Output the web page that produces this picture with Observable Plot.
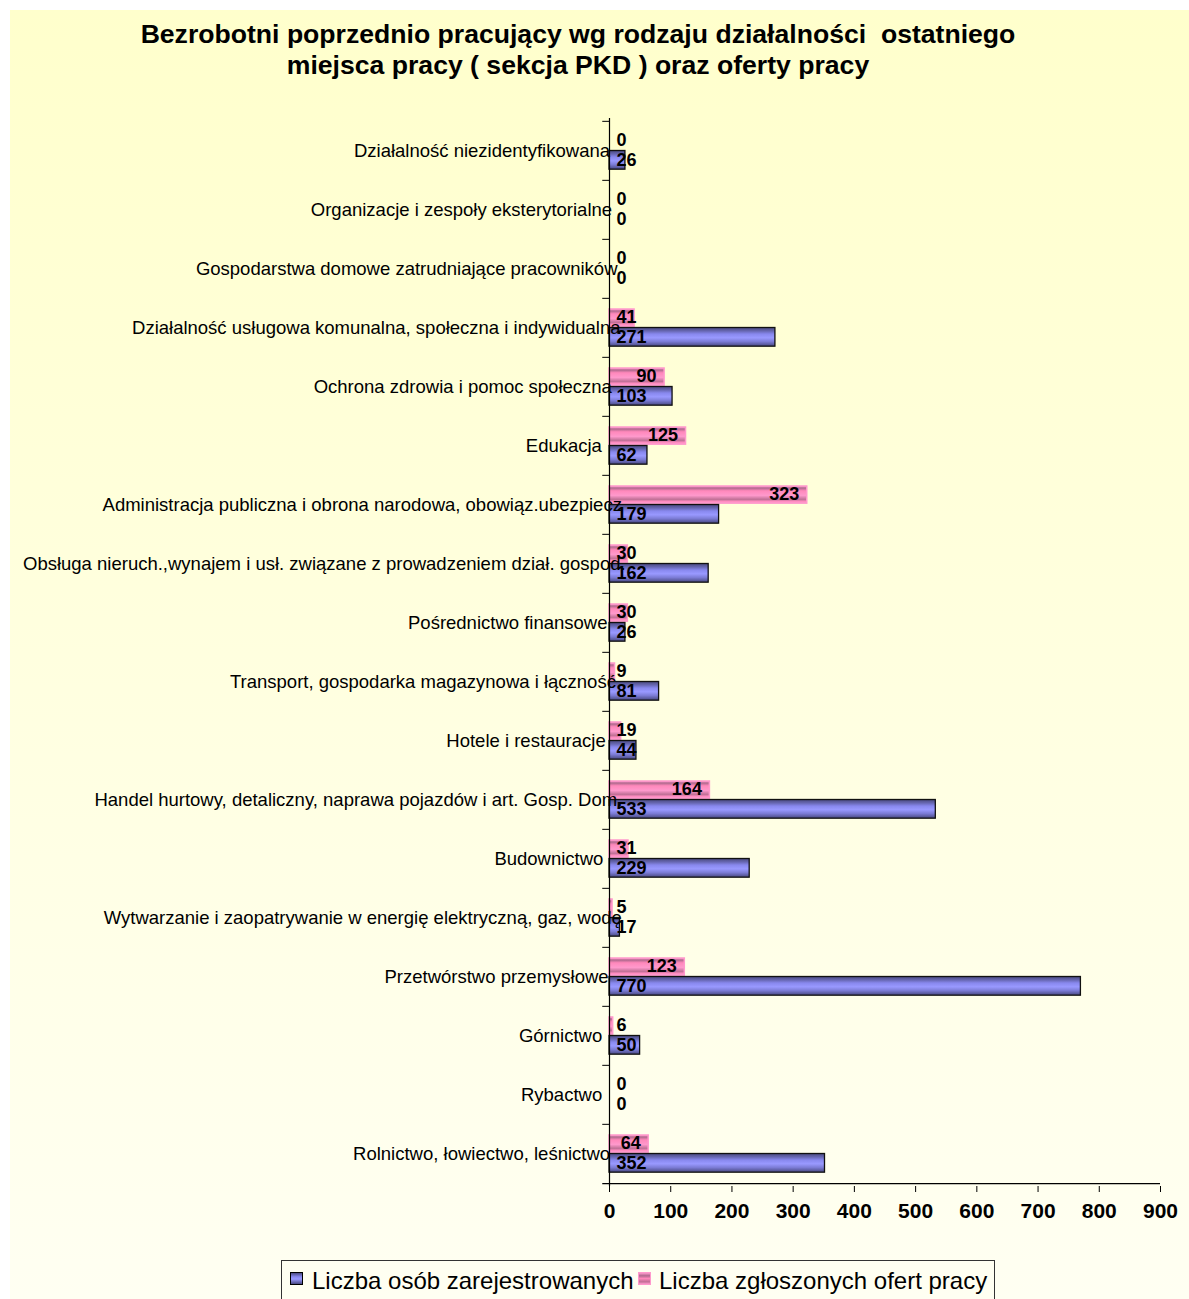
<!DOCTYPE html>
<html><head><meta charset="utf-8">
<script src="https://cdn.jsdelivr.net/npm/d3@7"></script>
<script src="https://cdn.jsdelivr.net/npm/@observablehq/plot@0.6"></script>
<style>
html,body{margin:0;padding:0;background:#fff;width:1189px;height:1299px;overflow:hidden;font-family:"Liberation Sans",Arial,sans-serif}
#wrap{position:absolute;left:10px;top:10px;width:1179px;height:1289px;background:linear-gradient(#ffffcc,#fffff2)}
#title{box-sizing:border-box;width:1136px;height:90px;padding-top:9px;text-align:center;font-weight:bold;font-size:26.6px;line-height:31px;color:#000;white-space:pre}
#chart{position:absolute;left:0;top:90px;width:1179px}
#chart svg{display:block}
#legend{position:absolute;left:271px;top:1250px;width:714px;height:48px;border:1px solid #333;box-sizing:border-box;font-size:24px;color:#000}
.item{position:absolute;top:6px;white-space:nowrap}
.sw{position:absolute;top:11px;width:11px;height:11px;border:1px solid #000}
</style></head>
<body>
<div id="wrap">
  <div id="title"></div>
  <div id="chart"></div>
  <div id="legend"></div>
</div>
<script>
const titleLines = ["Bezrobotni poprzednio pracujący wg rodzaju działalności  ostatniego", "miejsca pracy ( sekcja PKD ) oraz oferty pracy"];
const categories = [
  "Działalność niezidentyfikowana",
  "Organizacje i zespoły eksterytorialne",
  "Gospodarstwa domowe zatrudniające pracowników",
  "Działalność usługowa komunalna, społeczna i indywidualna",
  "Ochrona zdrowia i pomoc społeczna",
  "Edukacja",
  "Administracja publiczna i obrona narodowa, obowiąz.ubezpiecz",
  "Obsługa nieruch.,wynajem i usł. związane z prowadzeniem dział. gospod.",
  "Pośrednictwo finansowe",
  "Transport, gospodarka magazynowa i łączność",
  "Hotele i restauracje",
  "Handel hurtowy, detaliczny, naprawa pojazdów i art. Gosp. Dom.",
  "Budownictwo",
  "Wytwarzanie i zaopatrywanie w energię elektryczną, gaz, wodę",
  "Przetwórstwo przemysłowe",
  "Górnictwo",
  "Rybactwo",
  "Rolnictwo, łowiectwo, leśnictwo"
];
const registered = [26, 0, 0, 271, 103, 62, 179, 162, 26, 81, 44, 533, 229, 17, 770, 50, 0, 352];
const offers =     [0, 0, 0, 41, 90, 125, 323, 30, 30, 9, 19, 164, 31, 5, 123, 6, 0, 64];
const xTicks = [0, 100, 200, 300, 400, 500, 600, 700, 800, 900];
const seriesNames = ["Liczba osób zarejestrowanych", "Liczba zgłoszonych ofert pracy"];

document.getElementById("title").textContent = titleLines.join("\n");

const regData = categories.map((c, i) => ({cat: c, value: registered[i]}));
const offData = categories.map((c, i) => ({cat: c, value: offers[i]}));

// svg top sits at page y = 100
const W = 1179, H = 1131, mt = 18, mb = 45, ml = 599, mr = 29;
const step = (H - mt - mb) / categories.length;
const font = "Liberation Sans, Arial, sans-serif";

const chart = Plot.plot({
  width: W, height: H,
  marginTop: mt, marginBottom: mb, marginLeft: ml, marginRight: mr,
  style: {background: "transparent", overflow: "visible", fontFamily: font, color: "#000"},
  x: {domain: [0, 900], ticks: xTicks, label: null},
  y: {domain: categories, paddingInner: 0, paddingOuter: 0, axis: null, label: null},
  marks: [
    Plot.barX(offData.filter(d => d.value > 0), {x: "value", y: "cat", insetTop: 11, insetBottom: step - 28.5, fill: "url(#gPink)", stroke: "#ff99cc", strokeWidth: 1.5}),
    Plot.barX(regData.filter(d => d.value > 0), {x: "value", y: "cat", insetTop: 29.5, insetBottom: step - 48.5, fill: "url(#gBlue)", stroke: "#111", strokeWidth: 1.3}),
    Plot.ruleX([0], {stroke: "#000", strokeWidth: 1.2}),
    Plot.ruleY(categories, {y: d => d, x1: -11, x2: 0, dy: -step / 2, stroke: "#000"}),
    Plot.ruleY([categories[categories.length - 1]], {y: d => d, x1: -11, x2: 900, dy: step / 2, stroke: "#000", strokeWidth: 1.2}),
    Plot.axisY({tickSize: 0, tickPadding: 11, fontSize: 18.5, fontFamily: font, textAnchor: "end", label: null, className: "ycats"}),
    Plot.axisX({ticks: xTicks, tickSize: 6, tickPadding: 11, fontSize: 21, fontWeight: "bold", fontFamily: font, label: null}),
    Plot.text(offData.filter(d => d.value >= 55), {x: "value", y: "cat", text: d => String(d.value), dx: -8, dy: -11, textAnchor: "end", fontSize: 18, fontWeight: "bold", fill: "#000"}),
    Plot.text(offData.filter(d => d.value < 55), {x: 0, y: "cat", text: d => String(d.value), dx: 7, dy: -11, textAnchor: "start", fontSize: 18, fontWeight: "bold", fill: "#000"}),
    Plot.text(regData, {x: 0, y: "cat", text: d => String(d.value), dx: 7, dy: 9, textAnchor: "start", fontSize: 18, fontWeight: "bold", fill: "#000"})
  ]
});

// gradient definitions for the 3D-looking bars
const svg = d3.select(chart);
const defs = svg.insert("defs", ":first-child");
const gb = defs.append("linearGradient").attr("id", "gBlue").attr("x1", 0).attr("y1", 0).attr("x2", 0).attr("y2", 1);
[[0, "#4a4a80"], [0.18, "#6666b0"], [0.35, "#8888ee"], [0.55, "#9999ff"], [0.75, "#7c7cd6"], [1, "#484880"]]
  .forEach(([o, c]) => gb.append("stop").attr("offset", o).attr("stop-color", c));
const gp = defs.append("linearGradient").attr("id", "gPink").attr("x1", 0).attr("y1", 0).attr("x2", 0).attr("y2", 1);
[[0, "#ff99cc"], [0.12, "#b06a8e"], [0.28, "#ff88bb"], [0.55, "#ff99cc"], [0.78, "#c07096"], [0.9, "#ff8cc0"], [1, "#ff99cc"]]
  .forEach(([o, c]) => gp.append("stop").attr("offset", o).attr("stop-color", c));

document.getElementById("chart").appendChild(chart);

// the original's long category labels overflow to the right in proportion to their length
svg.selectAll("g.ycats text").each(function () {
  const len = this.getComputedTextLength();
  const t = this.getAttribute("transform") || "";
  this.setAttribute("transform", t + ` translate(${(0.045 * len).toFixed(1)},0)`);
});

// legend
const legend = document.getElementById("legend");
const swatches = ["linear-gradient(#4a4a80,#8888ee 35%,#9999ff 55%,#484880)", "linear-gradient(#ff99cc,#b06a8e 25%,#ff88bb 50%,#c07096 80%,#ff99cc)"];
const lefts = [[8, 30], [356, 377]];
seriesNames.forEach((name, i) => {
  const sw = document.createElement("div");
  sw.className = "sw";
  sw.style.left = lefts[i][0] + "px";
  sw.style.background = swatches[i];
  if (i === 1) sw.style.borderColor = "#ff99cc";
  legend.appendChild(sw);
  const t = document.createElement("div");
  t.className = "item";
  t.style.left = lefts[i][1] + "px";
  t.textContent = name;
  legend.appendChild(t);
});
</script>
</body></html>
